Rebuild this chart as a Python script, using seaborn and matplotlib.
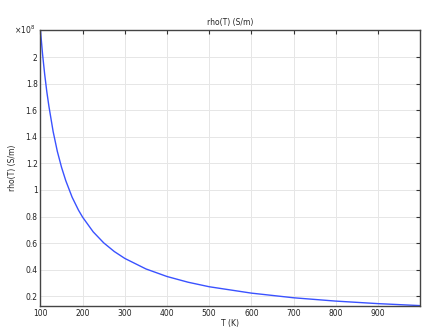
import matplotlib
matplotlib.use("Agg")
import matplotlib.pyplot as plt
import seaborn as sns
import pandas as pd

# Temperature (K)
T_values = [100, 105, 110, 115, 120, 130, 140, 150, 160, 175, 190, 200, 225,
            250, 275, 300, 350, 400, 450, 500, 600, 700, 800, 900, 1000]
# rho(T) in units of 1e8 S/m
rho_values = [2.20, 2.02, 1.87, 1.74, 1.63, 1.44, 1.29, 1.17, 1.07, 0.946, 0.849,
              0.795, 0.685, 0.602, 0.537, 0.485, 0.406, 0.349, 0.306, 0.272,
              0.224, 0.189, 0.164, 0.145, 0.130]
x_ticks = [100, 200, 300, 400, 500, 600, 700, 800, 900]
y_ticks = [0.2, 0.4, 0.6, 0.8, 1.0, 1.2, 1.4, 1.6, 1.8, 2.0]
y_tick_labels = ["0.2", "0.4", "0.6", "0.8", "1", "1.2", "1.4", "1.6", "1.8", "2"]

df = pd.DataFrame({"T": T_values, "rho": rho_values})

sns.set_style("white")
plt.rcParams['font.family'] = ['DejaVu Sans']

fig = plt.figure(figsize=(4.26, 3.27), dpi=100)
ax = fig.add_axes([0.095, 0.065, 0.891, 0.843])

sns.lineplot(data=df, x="T", y="rho", ax=ax, color="#3a52ff", linewidth=1.0)

ax.set_xlim(100, 1000)
ax.set_ylim(0.129, 2.203)
ax.set_xticks(x_ticks)
ax.set_yticks(y_ticks)
ax.set_yticklabels(y_tick_labels)
ax.tick_params(axis="both", which="both", direction="in", labelsize=5.5,
               length=3, width=0.8, colors="#333333", labelcolor="#222222",
               top=True, right=True, pad=2)
ax.grid(True, color="#e6e6e6", linewidth=0.7)
for s in ax.spines.values():
    s.set_color("#444444")
    s.set_linewidth(1.0)

ax.set_xlabel("T (K)", fontsize=5.5, labelpad=1)
ax.set_ylabel("rho(T) (S/m)", fontsize=5.5, labelpad=6)
ax.set_title("rho(T) (S/m)", fontsize=5.5, pad=4)
ax.text(-0.015, 1.0, "×10$^{8}$", transform=ax.transAxes, fontsize=5.5,
        ha="right", va="center", color="#222222")

fig.savefig("out.png", dpi=100)
